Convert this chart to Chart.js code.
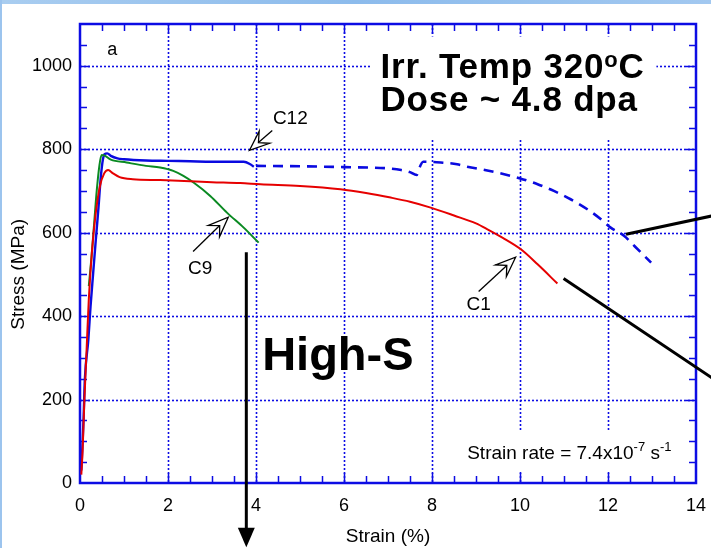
<!DOCTYPE html>
<html lang="en">
<head>
  <meta charset="UTF-8" />
  <title>Stress-Strain, Irr. Temp 320C</title>
  <script src="https://cdn.jsdelivr.net/npm/chart.js"></script>
  <style>
    html, body { margin: 0; padding: 0; background: #fff; }
    #wrap { width: 711px; height: 548px; position: relative; }
  </style>
</head>
<body>
  <div id="wrap"><canvas id="ssChart"></canvas></div>

  <script>
    // C1 (red)
    const c1Strain = [0.03, 0.06, 0.10, 0.15, 0.20, 0.27, 0.35, 0.45, 0.55, 0.64, 0.75, 0.90, 1.2, 1.82, 2.5, 3.0, 3.64, 4.1, 5.0, 5.92, 6.5, 7.06, 7.5, 7.97, 8.5, 9.0, 9.26, 9.6, 10.02, 10.4, 10.85];
    const c1Stress = [20, 80, 200, 320, 440, 552, 640, 710, 742, 750, 742, 733, 728, 726, 723, 721, 719, 716, 712, 704, 695, 684, 674, 660, 641, 622, 608, 588, 560, 524, 478];

    // C9 (green)
    const c9Strain = [0.20, 0.26, 0.32, 0.38, 0.44, 0.49, 0.55, 0.70, 1.06, 1.5, 1.82, 2.12, 2.35, 2.58, 2.96, 3.34, 3.72, 4.06];
    const c9Stress = [472, 540, 620, 700, 760, 786, 785, 775, 768, 760, 756, 748, 736, 720, 688, 648, 612, 576];

    // C12 (blue), measured part
    const c12Strain = [0.03, 0.06, 0.08, 0.11, 0.19, 0.24, 0.30, 0.36, 0.42, 0.47, 0.52, 0.56, 0.62, 0.70, 0.85, 1.0, 1.5, 2.0, 2.5, 3.0, 3.5, 3.72, 3.87, 3.95];
    const c12Stress = [30, 100, 152, 248, 344, 424, 504, 584, 660, 730, 775, 788, 790, 784, 778, 776, 773, 772, 771, 770, 770, 770, 764, 758];

    // C12 (blue), dashed continuation
    const c12bStrain = [4.0, 5.0, 6.0, 7.0, 7.3, 7.5, 7.65, 7.7, 7.8, 8.2, 8.57, 8.8, 9.2, 9.64, 10.0, 10.4, 10.77, 11.15, 11.53, 11.84, 12.06, 12.37, 12.6, 12.98];
    const c12bStress = [760, 759, 757, 754, 750, 745, 738, 752, 770, 768, 764, 758, 750, 740, 730, 716, 700, 680, 656, 632, 612, 592, 568, 528];

    const xTicks = [0, 2, 4, 6, 8, 10, 12, 14];
    const yTicks = [0, 200, 400, 600, 800, 1000];

    const BLUE = '#0c0ce4';
    const FONT = '"Liberation Sans", Arial, sans-serif';

    function pts(xs, ys) {
      return xs.map((x, i) => ({ x: x, y: ys[i] }));
    }

    // frame, dotted grid and inward minor ticks
    const framePlugin = {
      id: 'frame',
      beforeDraw(chart) {
        const c = chart.ctx;
        c.save();
        c.fillStyle = '#fff';
        c.fillRect(0, 0, chart.width, chart.height);
        const g = c.createLinearGradient(0, 0, chart.width, 0);
        g.addColorStop(0, '#a9cdf0');
        g.addColorStop(0.5, '#8cbbec');
        g.addColorStop(1, '#a2c8f0');
        c.fillStyle = g;
        c.fillRect(0, 0, chart.width, 4);
        c.fillStyle = '#9cc4ee';
        c.fillRect(0, 0, 2, chart.height);
        c.restore();
      },
      beforeDatasetsDraw(chart) {
        const c = chart.ctx;
        const a = chart.chartArea;
        const sx = chart.scales.x, sy = chart.scales.y;
        c.save();
        c.strokeStyle = BLUE;
        c.lineWidth = 1.6;
        c.setLineDash([2, 2]);
        xTicks.forEach(v => {
          const p = Math.round(sx.getPixelForValue(v)) + 0.5;
          if (p <= a.left + 1 || p >= a.right - 1) return;
          c.beginPath(); c.moveTo(p, a.top); c.lineTo(p, a.bottom); c.stroke();
        });
        yTicks.forEach(v => {
          const p = Math.round(sy.getPixelForValue(v)) + 0.5;
          if (p <= a.top + 1 || p >= a.bottom - 1) return;
          c.beginPath(); c.moveTo(a.left, p); c.lineTo(a.right, p); c.stroke();
        });

        // white boxes behind the text blocks hide the grid there
        c.fillStyle = '#fff';
        const box = (x0, y0, x1, y1) => {
          const px0 = sx.getPixelForValue(x0), px1 = sx.getPixelForValue(x1);
          const py0 = sy.getPixelForValue(y0), py1 = sy.getPixelForValue(y1);
          c.fillRect(px0, py0, px1 - px0, py1 - py0);
        };
        box(6.62, 1070, 13.1, 825);
        box(8.7, 123, 13.6, 27);
        box(8.75, 410, 9.4, 446);

        c.setLineDash([]);
        c.lineWidth = 1.5;
        for (let v = 0.5; v < 14; v += 0.5) {
          const p = Math.round(sx.getPixelForValue(v)) + 0.5;
          const len = (v % 2 === 0) ? 10 : 7;
          c.beginPath();
          c.moveTo(p, a.bottom); c.lineTo(p, a.bottom - len);
          c.moveTo(p, a.top); c.lineTo(p, a.top + len);
          c.stroke();
        }
        for (let v = 50; v < 1100; v += 50) {
          const p = Math.round(sy.getPixelForValue(v)) + 0.5;
          const len = (v % 200 === 0) ? 10 : 7;
          c.beginPath();
          c.moveTo(a.left, p); c.lineTo(a.left + len, p);
          c.moveTo(a.right, p); c.lineTo(a.right - len, p);
          c.stroke();
        }
        c.lineWidth = 2.5;
        c.strokeRect(a.left, a.top, a.right - a.left, a.bottom - a.top);
        c.restore();
      }
    };

    // hollow arrow pointing at a curve
    function openArrow(c, x0, y0, x1, y1) {
      const dx = x1 - x0, dy = y1 - y0;
      const d = Math.hypot(dx, dy);
      const ux = dx / d, uy = dy / d, nx = -uy, ny = ux;
      const L = 20, W = 8, N = 12;
      c.beginPath();
      c.moveTo(x0, y0);
      c.lineTo(x1 - ux * N, y1 - uy * N);
      c.stroke();
      c.beginPath();
      c.moveTo(x1, y1);
      c.lineTo(x1 - ux * L + nx * W, y1 - uy * L + ny * W);
      c.lineTo(x1 - ux * N, y1 - uy * N);
      c.lineTo(x1 - ux * L - nx * W, y1 - uy * L - ny * W);
      c.closePath();
      c.fillStyle = '#fff';
      c.fill();
      c.stroke();
    }

    function supText(c, parts, x, y, spacing) {
      // parts: [text, size, bold, raise]
      let cx = x;
      c.letterSpacing = (spacing || 0) + 'px';
      parts.forEach(p => {
        c.font = (p[2] ? 'bold ' : '') + p[1] + 'px ' + FONT;
        c.fillText(p[0], cx, y - p[3]);
        cx += c.measureText(p[0]).width;
      });
      c.letterSpacing = '0px';
    }

    const notesPlugin = {
      id: 'notes',
      afterDraw(chart) {
        const c = chart.ctx;
        const sx = chart.scales.x, sy = chart.scales.y;
        const X = v => sx.getPixelForValue(v);
        const Y = v => sy.getPixelForValue(v);
        c.save();
        c.fillStyle = '#000';
        c.strokeStyle = '#000';
        c.textBaseline = 'alphabetic';

        // y axis title, centred on 0..1000
        c.save();
        c.font = '19px ' + FONT;
        c.textAlign = 'center';
        c.translate(24, (Y(0) + Y(1000)) / 2);
        c.rotate(-Math.PI / 2);
        c.fillText('Stress (MPa)', 0, 0);
        c.restore();

        c.textAlign = 'left';
        c.font = '18px ' + FONT;
        c.fillText('a', X(0.62), Y(1026));

        supText(c, [['Irr. Temp 320', 35, true, 0], ['o', 22, true, 11], ['C', 35, true, 0]], X(6.83), Y(970), 0.8);
        supText(c, [['Dose ~ 4.8 dpa', 35, true, 0]], X(6.83), Y(892), 0.8);
        supText(c, [['High-S', 47, true, 0]], X(4.14), Y(272));
        c.fillStyle = '#000';
        supText(c, [['Strain rate = 7.4x10', 19, false, 0], ['-7', 13, false, 8], [' s', 19, false, 0], ['-1', 13, false, 8]], X(8.8), Y(58));

        c.textAlign = 'center';
        c.textBaseline = 'middle';
        c.font = '19px ' + FONT;
        c.fillText('C12', X(4.78), Y(874));
        c.fillText('C9', X(2.73), Y(514));
        c.fillText('C1', X(9.06), Y(428));

        c.lineWidth = 1.3;
        openArrow(c, X(4.37), Y(845), X(3.85), Y(797));
        openArrow(c, X(2.57), Y(555), X(3.37), Y(637));
        openArrow(c, X(9.06), Y(459), X(9.9), Y(541));

        // pointer lines leaving the frame
        c.lineWidth = 3;
        c.beginPath();
        c.moveTo(X(12.41), Y(596)); c.lineTo(X(14.36), Y(640));
        c.moveTo(X(10.99), Y(490)); c.lineTo(X(14.36), Y(252));
        c.stroke();

        // downward arrow under C9
        const ax = X(3.78);
        c.beginPath();
        c.moveTo(ax, Y(553)); c.lineTo(ax, Y(-110));
        c.stroke();
        c.fillStyle = '#000';
        c.beginPath();
        c.moveTo(ax - 8.5, Y(-107));
        c.lineTo(ax + 8.5, Y(-107));
        c.lineTo(ax, Y(-154));
        c.closePath();
        c.fill();
        c.restore();
      }
    };

    const line = (data, color, width, dash) => ({
      data: data,
      showLine: true,
      borderColor: color,
      borderWidth: width,
      borderDash: dash || [],
      pointRadius: 0,
      fill: false,
      cubicInterpolationMode: 'monotone'
    });

    new Chart(document.getElementById('ssChart'), {
      type: 'scatter',
      data: {
        datasets: [
          line(pts(c1Strain, c1Stress), '#e60000', 2),
          line(pts(c9Strain, c9Stress), '#0a8a22', 2),
          line(pts(c12bStrain, c12bStress), '#0a0ae0', 2.6, [10, 7]),
          line(pts(c12Strain, c12Stress), '#0a0ae0', 2.4)
        ]
      },
      options: {
        responsive: true,
        maintainAspectRatio: false,
        animation: false,
        events: [],
        layout: { padding: { top: 24, right: 15, left: 0, bottom: 0 } },
        plugins: { legend: { display: false }, tooltip: { enabled: false } },
        scales: {
          x: {
            type: 'linear',
            min: 0, max: 14,
            afterBuildTicks: s => { s.ticks = xTicks.map(v => ({ value: v })); },
            afterFit: s => { s.height = 65; s.paddingLeft = 0; s.paddingRight = 0; },
            grid: { display: false, drawTicks: false },
            border: { display: false },
            ticks: { color: '#000', padding: 12, maxRotation: 0, font: { family: FONT, size: 18 }, callback: v => String(v) },
            title: { display: true, text: 'Strain (%)', color: '#000', padding: { top: 3, bottom: 0 }, font: { family: FONT, size: 19 } }
          },
          y: {
            type: 'linear',
            min: 0, max: 1100,
            afterBuildTicks: s => { s.ticks = yTicks.map(v => ({ value: v })); },
            afterFit: s => { s.width = 80; s.paddingTop = 0; s.paddingBottom = 0; },
            grid: { display: false, drawTicks: false },
            border: { display: false },
            ticks: { color: '#000', padding: 8, font: { family: FONT, size: 18 }, callback: v => String(v) }
          }
        }
      },
      plugins: [framePlugin, notesPlugin]
    });
  </script>
</body>
</html>
